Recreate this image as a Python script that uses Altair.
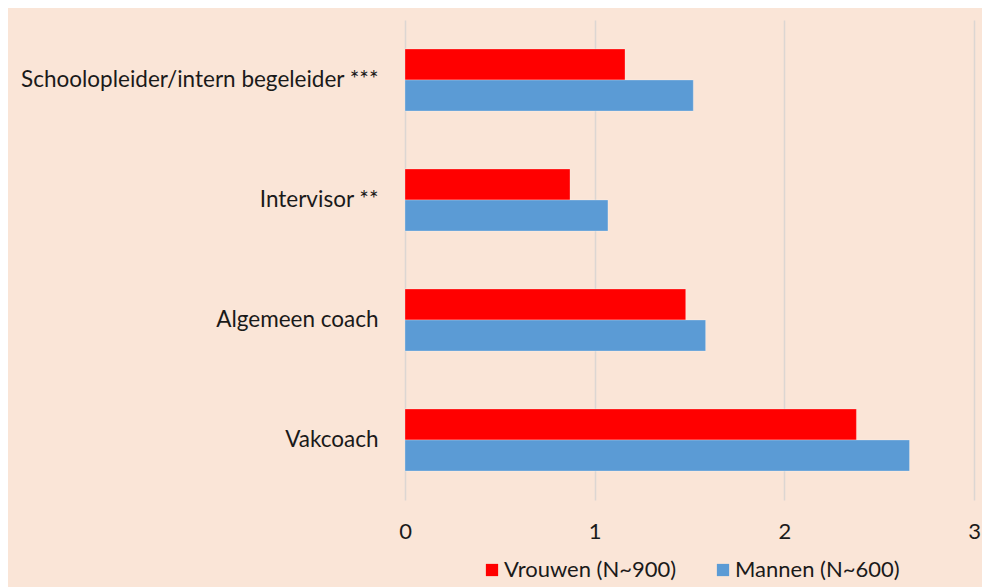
import altair as alt
import pandas as pd

categories = ["Schoolopleider/intern begeleider ***", "Intervisor **", "Algemeen coach", "Vakcoach"]
series = ["Vrouwen (N~900)", "Mannen (N~600)"]
vrouwen = [1.16, 0.87, 1.48, 2.38]
mannen = [1.52, 1.07, 1.585, 2.66]
x_ticks = [0, 1, 2, 3]

rows = []
for c, v, m in zip(categories, vrouwen, mannen):
    rows.append({"cat": c, "serie": series[0], "val": v})
    rows.append({"cat": c, "serie": series[1], "val": m})
df = pd.DataFrame(rows)

FONT = "Lato"
BG = "#FAE5D7"

chart = alt.Chart(df).mark_bar(strokeWidth=0.8, strokeOpacity=0.35, stroke="white").encode(
    y=alt.Y("cat:N", sort=categories,
            scale=alt.Scale(paddingInner=0.483, paddingOuter=0.2415),
            axis=alt.Axis(title=None, ticks=False, domain=False, grid=False,
                          labelFontSize=22.5, labelFont=FONT, labelColor="#1a1a1a",
                          labelPadding=27, labelLimit=500)),
    yOffset=alt.YOffset("serie:N", sort=series),
    x=alt.X("val:Q", scale=alt.Scale(domain=[0, 3], nice=False),
            axis=alt.Axis(title=None, values=x_ticks, ticks=False, domain=False,
                          grid=True, gridColor="#DCD6D2", gridWidth=1.5,
                          labelFontSize=22, labelFont=FONT, labelColor="#1a1a1a",
                          labelPadding=21, labelFlush=False, format="d")),
    color=alt.Color("serie:N", sort=series,
                    scale=alt.Scale(domain=series, range=["#FF0000", "#5B9BD5"]),
                    legend=alt.Legend(title=None, orient="none", legendX=76, legendY=539,
                                      direction="horizontal", columns=2, columnPadding=35,
                                      symbolType="square", symbolSize=150,
                                      symbolStrokeWidth=0, labelOffset=1,
                                      labelFontSize=22, labelFont=FONT, labelLimit=400,
                                      labelColor="#1a1a1a")),
).properties(
    width=569, height=480,
    background=BG,
    padding={"left": 397, "top": 12, "right": 8, "bottom": 87},
    autosize=alt.AutoSizeParams(type="none"),
).configure_view(stroke=None)

chart.save("out.html", embed_options={"renderer": "svg", "actions": False})
